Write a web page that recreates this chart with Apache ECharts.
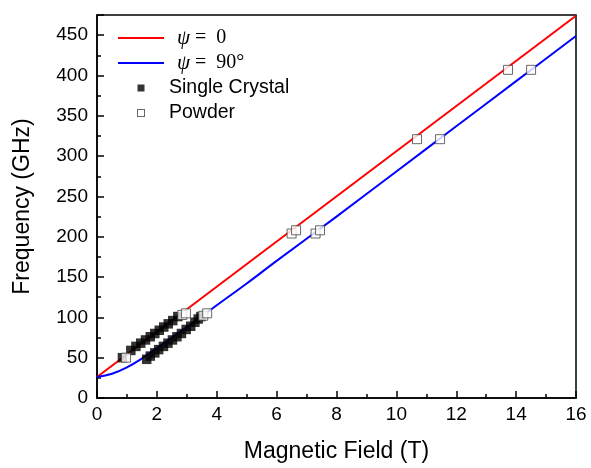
<!DOCTYPE html>
<html>
<head>
<meta charset="utf-8">
<script src="https://cdn.jsdelivr.net/npm/echarts@6/dist/echarts.min.js"></script>
<style>
html,body{margin:0;padding:0;background:#fff;}
#chart{width:591px;height:468px;}
</style>
</head>
<body>
<div id="chart"></div>
<script>
// Theory curves
var psi0Line = [[0, 26], [16, 474]];
var psi90Line = [[0, 26], [0.5, 30], [1, 38], [1.5, 49], [2, 62], [2.5, 75], [3, 88], [4, 115], [5, 142], [6, 170], [8, 225], [10, 281], [12, 337], [14, 393], [16, 449]];
// Single crystal data (two branches)
var singleCrystal = [
  [0.85, 50], [1.13, 59], [1.3, 64], [1.46, 68], [1.62, 72], [1.78, 76], [1.93, 80], [2.08, 84], [2.23, 88], [2.38, 92], [2.53, 96], [2.7, 101],
  [1.66, 48], [1.78, 52], [1.93, 56], [2.06, 60], [2.22, 64], [2.37, 68], [2.52, 72], [2.67, 76], [2.82, 80], [2.98, 85], [3.13, 89], [3.27, 94], [3.38, 98], [3.47, 101]
];
// Powder data
var powder = [
  [0.97, 50], [2.85, 103], [2.97, 105], [3.55, 102], [3.68, 105],
  [6.5, 204], [6.65, 208], [7.3, 204], [7.45, 208],
  [10.69, 321], [11.46, 321], [13.73, 407], [14.5, 407]
];
var xTicks = {min: 0, max: 16, interval: 2};
var yTicks = {min: 0, max: 475, interval: 50};

var chart = echarts.init(document.getElementById('chart'));
var sans = 'Liberation Sans';
var lineIcon = 'path://M0,3L46,3L46,5L0,5Z';
var anchors = 'M0,4L0.01,4L0.01,4.01Z M46,4L45.99,4L45.99,4.01Z ';
var squareIcon = 'path://' + anchors + 'M19.5,0.5L26.5,0.5L26.5,7.5L19.5,7.5Z';
var hollowIcon = 'path://' + anchors + 'M19,0L27,0L27,8L19,8Z M20,1L20,7L26,7L26,1Z';
chart.setOption({
  animation: false,
  backgroundColor: '#fff',
  grid: {left: 97, right: 15, top: 15, bottom: 67, show: true, borderColor: '#000', borderWidth: 1.5, backgroundColor: 'transparent'},
  xAxis: {
    type: 'value', min: xTicks.min, max: xTicks.max, interval: xTicks.interval,
    name: 'Magnetic Field (T)', nameLocation: 'middle', nameGap: 42,
    nameTextStyle: {fontFamily: sans, fontSize: 23, color: '#000'},
    axisLine: {lineStyle: {color: '#000', width: 1.5}},
    axisTick: {inside: true, length: 7, lineStyle: {color: '#000', width: 1.5}},
    minorTick: {show: true, splitNumber: 2, length: 4, lineStyle: {color: '#000', width: 1.5}},
    axisLabel: {fontFamily: sans, fontSize: 19, color: '#000', margin: 7},
    splitLine: {show: false}
  },
  yAxis: {
    type: 'value', min: yTicks.min, max: yTicks.max, interval: yTicks.interval,
    name: 'Frequency (GHz)', nameLocation: 'middle', nameGap: 63,
    nameTextStyle: {fontFamily: sans, fontSize: 23, color: '#000'},
    axisLine: {lineStyle: {color: '#000', width: 1.5}},
    axisTick: {inside: true, length: 7, lineStyle: {color: '#000', width: 1.5}},
    minorTick: {show: true, splitNumber: 2, length: 4, lineStyle: {color: '#000', width: 1.5}},
    axisLabel: {fontFamily: sans, fontSize: 19, color: '#000', margin: 9, showMaxLabel: false},
    splitLine: {show: false}
  },
  legend: {
    orient: 'vertical', left: 113, top: 21, itemWidth: 46, itemHeight: 8, itemGap: 1,
    data: [
      {name: 'psi0', icon: lineIcon},
      {name: 'psi90', icon: lineIcon},
      {name: 'Single Crystal', icon: squareIcon},
      {name: 'Powder', icon: hollowIcon, itemStyle: {color: '#444', borderWidth: 0}}
    ],
    textStyle: {fontFamily: sans, fontSize: 19.5, color: '#000', lineHeight: 24,
      rich: {
        pad: {width: 8, lineHeight: 24},
        g: {fontFamily: 'Liberation Serif', fontStyle: 'italic', fontSize: 21, color: '#000', lineHeight: 24},
        t: {fontFamily: 'Liberation Serif', fontSize: 20, color: '#000', lineHeight: 24}
      }
    },
    formatter: function (name) {
      if (name === 'psi0') return '{pad|}{g|ψ}{t| =  0}';
      if (name === 'psi90') return '{pad|}{g|ψ}{t| =  90°}';
      return name;
    }
  },
  series: [
    {name: 'psi0', type: 'line', data: psi0Line, showSymbol: false, symbol: 'none', lineStyle: {color: '#ff0000', width: 2}, itemStyle: {color: '#ff0000'}, z: 2},
    {name: 'psi90', type: 'line', data: psi90Line, smooth: 0.4, showSymbol: false, symbol: 'none', lineStyle: {color: '#0000ff', width: 2}, itemStyle: {color: '#0000ff'}, z: 2},
    {name: 'Single Crystal', type: 'scatter', data: singleCrystal, symbol: 'rect', symbolSize: 9.5, itemStyle: {color: '#000'}, z: 3},
    {name: 'Powder', type: 'scatter', data: powder, symbol: 'rect', symbolSize: 9, itemStyle: {color: '#fff', borderColor: '#444', borderWidth: 1}, z: 4}
  ]
});
</script>
</body>
</html>
